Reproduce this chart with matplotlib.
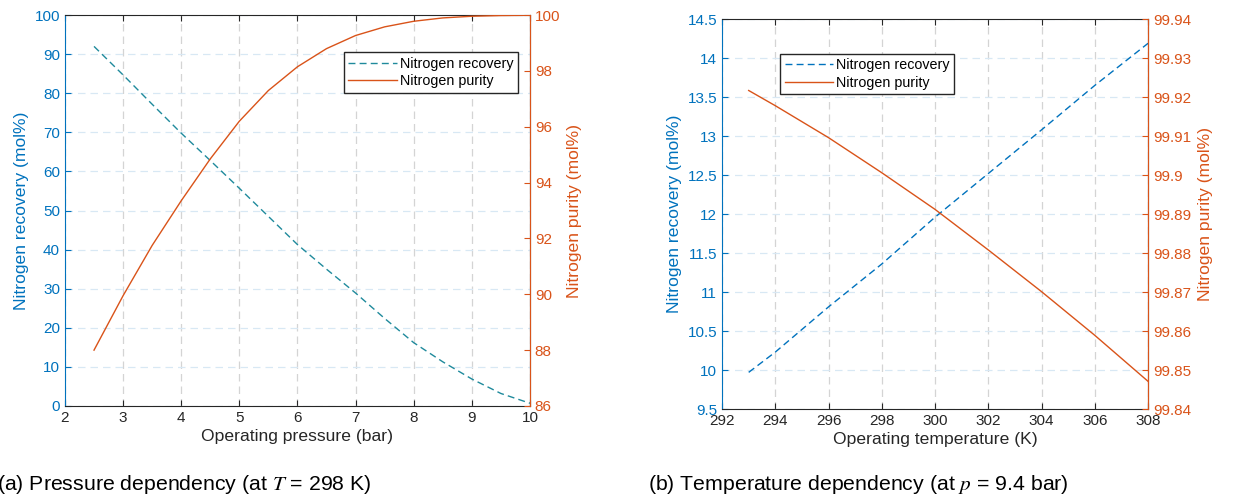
import matplotlib.pyplot as plt

plt.rcParams['font.family'] = ['Liberation Sans', 'DejaVu Sans']
plt.rcParams['mathtext.fontset'] = 'stix'

BLUE = '#0072BD'
ORANGE = '#D95319'
TEAL = '#1f8a9c'

# (a) pressure dependency at T = 298 K
pressure = [2.5, 3, 3.5, 4, 4.5, 5, 5.5, 6, 6.5, 7, 7.5, 8, 8.5, 9, 9.5, 10]
recovery_p = [92.0, 84.7, 77.2, 69.8, 62.8, 55.7, 48.5, 41.3, 35.0, 28.9, 22.4, 16.2, 11.3, 6.9, 3.2, 0.7]
purity_p = [88.0, 89.95, 91.75, 93.35, 94.85, 96.2, 97.3, 98.15, 98.8, 99.27, 99.58, 99.78, 99.9, 99.96, 99.985, 99.995]

# (b) temperature dependency at p = 9.4 bar
temperature = [293, 294, 296, 298, 300, 302, 304, 306, 308]
recovery_t = [9.97, 10.23, 10.81, 11.36, 11.96, 12.52, 13.08, 13.65, 14.19]
purity_t = [99.9217, 99.9178, 99.9096, 99.9006, 99.8912, 99.8808, 99.8701, 99.8589, 99.8471]

fig = plt.figure(figsize=(12.54, 4.96), dpi=100)


def style_axes(ax, ax2):
    ax.tick_params(direction='in', labelsize=11, length=4)
    ax.tick_params(axis='y', colors=BLUE, labelcolor=BLUE)
    ax.tick_params(axis='x', colors='#262626', labelcolor='#262626', top=True)
    ax2.tick_params(direction='in', labelsize=11, length=4, colors=ORANGE, labelcolor=ORANGE)
    for s in ['top', 'bottom']:
        ax.spines[s].set_color('#262626')
    ax.spines['left'].set_color(BLUE)
    ax2.spines['right'].set_color(ORANGE)
    ax2.spines['left'].set_visible(False)
    ax2.spines['top'].set_visible(False)
    ax2.spines['bottom'].set_visible(False)
    ax.xaxis.grid(True, color='#d4d4d4', ls=(0, (6, 4)), lw=0.9)
    ax.yaxis.grid(True, color='#d8e8f4', ls=(0, (6, 4)), lw=0.9)
    ax.set_axisbelow(True)


def add_legend(ax, lines, loc, anchor):
    ax.legend(lines, ['Nitrogen recovery', 'Nitrogen purity'], loc=loc, bbox_to_anchor=anchor,
              fontsize=10.3, fancybox=False, edgecolor='#262626', framealpha=1,
              borderpad=0.3, handlelength=3.4, handletextpad=0.2, labelspacing=0.25)


# panel (a)
ax1 = fig.add_axes([0.0518, 0.1815, 0.3708, 0.788])
ax1b = ax1.twinx()
l1, = ax1.plot(pressure, recovery_p, color=TEAL, ls=(0, (5, 3)), lw=1.0)
l2, = ax1b.plot(pressure, purity_p, color=ORANGE, lw=1.0)
ax1.set_xlim(2, 10)
ax1.set_ylim(0, 100)
ax1.set_yticks(range(0, 101, 10))
ax1b.set_ylim(86, 100)
ax1b.set_yticks(range(86, 101, 2))
ax1.set_xlabel('Operating pressure (bar)', fontsize=12.6, color='#262626', labelpad=3)
ax1.set_ylabel('Nitrogen recovery (mol%)', fontsize=12.6, color=BLUE, labelpad=4)
ax1b.set_ylabel('Nitrogen purity (mol%)', fontsize=12.6, color=ORANGE, labelpad=5)
style_axes(ax1, ax1b)
add_legend(ax1b, [l1, l2], 'upper right', (0.989, 0.923))
fig.text(-0.002, 0.013, '(a) Pressure dependency (at $T$ = 298 K)', fontsize=15.3)

# panel (b)
ax2 = fig.add_axes([0.5758, 0.1754, 0.3397, 0.786])
ax2b = ax2.twinx()
l3, = ax2.plot(temperature, recovery_t, color=BLUE, ls=(0, (5, 3)), lw=1.0)
l4, = ax2b.plot(temperature, purity_t, color=ORANGE, lw=1.0)
ax2.set_xlim(292, 308)
ax2.set_xticks(range(292, 309, 2))
ax2.set_ylim(9.5, 14.5)
ax2.set_yticks([9.5, 10, 10.5, 11, 11.5, 12, 12.5, 13, 13.5, 14, 14.5])
ax2.set_yticklabels(['9.5', '10', '10.5', '11', '11.5', '12', '12.5', '13', '13.5', '14', '14.5'])
ax2b.set_ylim(99.84, 99.94)
ax2b.set_yticks([99.84, 99.85, 99.86, 99.87, 99.88, 99.89, 99.90, 99.91, 99.92, 99.93, 99.94])
ax2b.set_yticklabels(['99.84', '99.85', '99.86', '99.87', '99.88', '99.89', '99.9', '99.91',
                      '99.92', '99.93', '99.94'])
ax2.set_xlabel('Operating temperature (K)', fontsize=12.6, color='#262626', labelpad=3)
ax2.set_ylabel('Nitrogen recovery (mol%)', fontsize=12.6, color=BLUE, labelpad=4)
ax2b.set_ylabel('Nitrogen purity (mol%)', fontsize=12.6, color=ORANGE, labelpad=5)
style_axes(ax2, ax2b)
add_legend(ax2b, [l3, l4], 'upper left', (0.12, 0.929))
fig.text(0.5167, 0.013, '(b) Temperature dependency (at $p$ = 9.4 bar)', fontsize=15.3)

fig.savefig('out.png', dpi=100)
